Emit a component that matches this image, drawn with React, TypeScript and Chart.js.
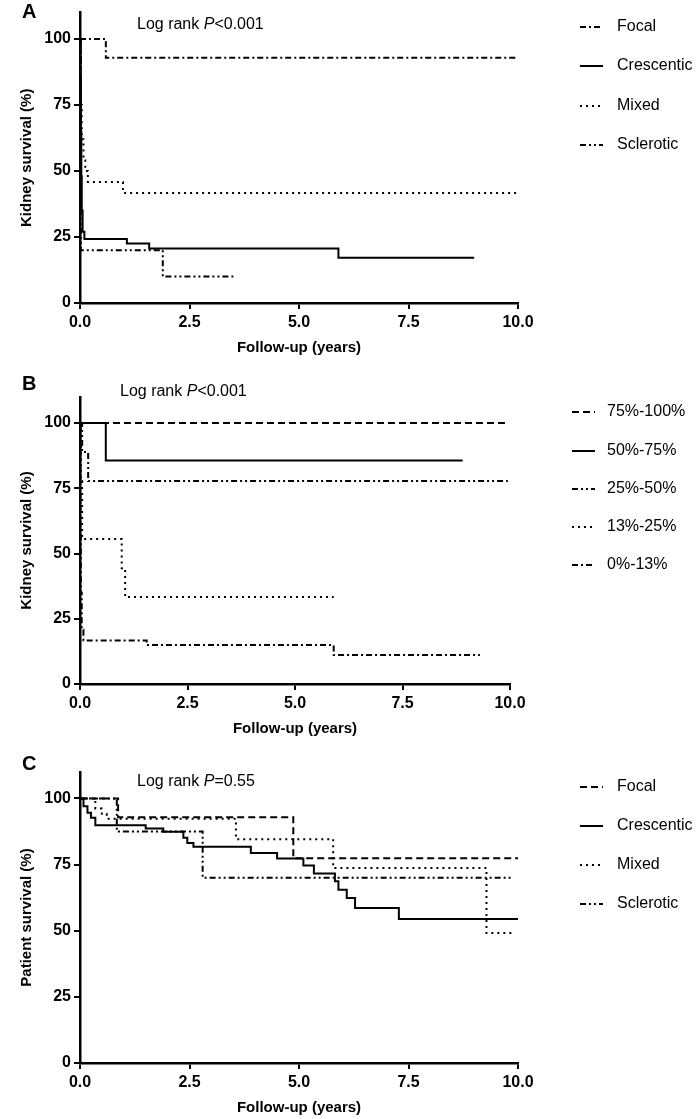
import React, { useEffect, useRef } from 'react';
import { Chart, registerables } from 'chart.js';

Chart.register(...registerables);

const FONT = '"Liberation Sans", Arial, Helvetica, sans-serif';

// ---------- shared axes ----------
const xTicks = [0, 2.5, 5, 7.5, 10];
const yTicks = [0, 25, 50, 75, 100];
const xTitle = 'Follow-up (years)';

// ---------- Panel A: kidney survival by histological class ----------
const classLabels = ['Focal', 'Crescentic', 'Mixed', 'Sclerotic'];
const aFocalTime = [0, 0.59, 10.0];
const aFocalSurv = [100, 92.9, 92.9];
const aCrescTime = [0, 0.01, 0.02, 0.03, 0.04, 0.06, 0.1, 1.07, 1.58, 5.9, 9.0];
const aCrescSurv = [100, 85, 65, 48, 35, 27, 24.2, 22.5, 20.6, 17.1, 17.1];
const aMixedTime = [0, 0.02, 0.04, 0.08, 0.12, 0.18, 0.98, 10.0];
const aMixedSurv = [100, 75, 62, 54, 50, 45.8, 41.7, 41.7];
const aSclerTime = [0, 0.02, 1.89, 3.5];
const aSclerSurv = [100, 20, 10, 10];

// ---------- Panel B: kidney survival by % normal glomeruli ----------
const normalLabels = ['75%-100%', '50%-75%', '25%-50%', '13%-25%', '0%-13%'];
const b75Time = [0, 9.9];
const b75Surv = [100, 100];
const b50Time = [0, 0.6, 8.9];
const b50Surv = [100, 85.7, 85.7];
const b25Time = [0, 0.05, 0.19, 9.95];
const b25Surv = [100, 88.9, 77.8, 77.8];
const b13Time = [0, 0.02, 0.05, 0.97, 1.05, 5.9];
const b13Surv = [100, 77.8, 55.6, 44.4, 33.3, 33.3];
const b0Time = [0, 0.01, 0.02, 0.04, 0.08, 1.55, 5.9, 9.3];
const b0Surv = [100, 60, 35, 20.8, 16.7, 14.9, 11.1, 11.1];

// ---------- Panel C: patient survival by histological class ----------
const cFocalTime = [0, 0.87, 4.87, 10.0];
const cFocalSurv = [100, 92.9, 77.4, 77.4];
const cCrescTime = [0, 0.08, 0.17, 0.25, 0.35, 1.5, 1.9, 2.36, 2.45, 2.59, 3.9, 4.5, 5.1, 5.34, 5.82, 5.9, 6.09, 6.28, 7.28, 10.0];
const cCrescSurv = [100, 97.1, 94.6, 92.7, 89.9, 88.6, 87.4, 85.1, 83.2, 81.7, 79.4, 77.3, 74.7, 71.6, 68.7, 65.5, 62.4, 58.6, 54.4, 54.4];
const cMixedTime = [0, 0.35, 0.5, 0.61, 3.56, 5.78, 9.28, 9.9];
const cMixedSurv = [100, 96.2, 94.2, 92.3, 84.6, 73.7, 49.1, 49.1];
const cSclerTime = [0, 0.84, 2.8, 9.85];
const cSclerSurv = [100, 87.5, 70, 70];

// ---------- line styles ----------
const SOLID: number[] = [];
const DASH = [7, 4];
const DOT = [2, 4];
const DASH_DOT = [6, 3, 2, 3];
const DASH_DOT_DOT = [6, 3, 2, 3, 2, 3];

type Series = { label: string; t: number[]; s: number[]; dash: number[] };
type Panel = {
  top: number;
  height: number;
  padTop: number;
  padRight: number;
  xScaleHeight: number;
  xTitlePadBottom: number;
  yTitle: string;
  letter: string;
  letterY: number;
  logX: number;
  logY: number;
  pText: string;
  legendY: number[];
  legendX1: number;
  legendX2: number;
  legendTextX: number;
  series: Series[];
};

const panels: Panel[] = [
  {
    top: 0, height: 370, padTop: 12, padRight: 178, xScaleHeight: 67, xTitlePadBottom: 13,
    yTitle: 'Kidney survival (%)', letter: 'A', letterY: 12, logX: 137, logY: 25, pText: '<0.001',
    legendY: [27, 66, 106, 145], legendX1: 580, legendX2: 603, legendTextX: 617,
    series: [
      { label: classLabels[0], t: aFocalTime, s: aFocalSurv, dash: DASH_DOT },
      { label: classLabels[1], t: aCrescTime, s: aCrescSurv, dash: SOLID },
      { label: classLabels[2], t: aMixedTime, s: aMixedSurv, dash: DOT },
      { label: classLabels[3], t: aSclerTime, s: aSclerSurv, dash: DASH_DOT_DOT },
    ],
  },
  {
    top: 370, height: 375, padTop: 27, padRight: 186, xScaleHeight: 61, xTitlePadBottom: 7,
    yTitle: 'Kidney survival (%)', letter: 'B', letterY: 14, logX: 120, logY: 22, pText: '<0.001',
    legendY: [42, 81, 119, 157, 195], legendX1: 572, legendX2: 595, legendTextX: 607,
    series: [
      { label: normalLabels[0], t: b75Time, s: b75Surv, dash: DASH },
      { label: normalLabels[1], t: b50Time, s: b50Surv, dash: SOLID },
      { label: normalLabels[2], t: b25Time, s: b25Surv, dash: DASH_DOT_DOT },
      { label: normalLabels[3], t: b13Time, s: b13Surv, dash: DOT },
      { label: normalLabels[4], t: b0Time, s: b0Surv, dash: DASH_DOT },
    ],
  },
  {
    top: 745, height: 374, padTop: 27, padRight: 178, xScaleHeight: 56, xTitlePadBottom: 2,
    yTitle: 'Patient survival (%)', letter: 'C', letterY: 19, logX: 137, logY: 37, pText: '=0.55',
    legendY: [42, 81, 120, 159], legendX1: 580, legendX2: 603, legendTextX: 617,
    series: [
      { label: classLabels[0], t: cFocalTime, s: cFocalSurv, dash: DASH },
      { label: classLabels[1], t: cCrescTime, s: cCrescSurv, dash: SOLID },
      { label: classLabels[2], t: cMixedTime, s: cMixedSurv, dash: DOT },
      { label: classLabels[3], t: cSclerTime, s: cSclerSurv, dash: DASH_DOT_DOT },
    ],
  },
];

function overlayPlugin(p: Panel) {
  return {
    id: 'overlay' + p.letter,
    afterDraw(chart: any) {
      const ctx: CanvasRenderingContext2D = chart.ctx;
      ctx.save();
      ctx.fillStyle = '#000';
      ctx.strokeStyle = '#000';
      ctx.textBaseline = 'middle';
      ctx.textAlign = 'left';
      // panel letter
      ctx.font = `bold 20px ${FONT}`;
      ctx.fillText(p.letter, 22, p.letterY);
      // log rank annotation
      let x = p.logX;
      ctx.font = `16px ${FONT}`;
      ctx.fillText('Log rank ', x, p.logY);
      x += ctx.measureText('Log rank ').width;
      ctx.font = `italic 16px ${FONT}`;
      ctx.fillText('P', x, p.logY);
      x += ctx.measureText('P').width;
      ctx.font = `16px ${FONT}`;
      ctx.fillText(p.pText, x, p.logY);
      // legend
      chart.data.datasets.forEach((ds: any, i: number) => {
        const y = p.legendY[i];
        ctx.beginPath();
        ctx.lineWidth = 2;
        ctx.lineCap = 'butt';
        ctx.setLineDash(ds.borderDash || []);
        ctx.moveTo(p.legendX1, y);
        ctx.lineTo(p.legendX2, y);
        ctx.stroke();
        ctx.setLineDash([]);
        ctx.font = `16px ${FONT}`;
        ctx.fillText(ds.label, p.legendTextX, y);
      });
      ctx.restore();
    },
  };
}

function axisCommon() {
  return {
    type: 'linear' as const,
    grid: { drawOnChartArea: false, drawTicks: true, tickLength: 6, color: '#000', lineWidth: 2 },
    border: { display: true, color: '#000', width: 2.5 },
  };
}

function PanelChart({ p }: { p: Panel }) {
  const ref = useRef<HTMLCanvasElement | null>(null);
  useEffect(() => {
    if (!ref.current) return;
    const chart = new Chart(ref.current, {
      type: 'line',
      data: {
        datasets: p.series.map((s) => ({
          label: s.label,
          data: s.t.map((t, i) => ({ x: t, y: s.s[i] })),
          borderColor: '#000',
          borderWidth: 2,
          borderDash: s.dash,
          borderCapStyle: 'butt',
          stepped: true,
          pointRadius: 0,
          fill: false,
        })),
      },
      options: {
        animation: false,
        responsive: false,
        devicePixelRatio: 1,
        layout: { padding: { top: p.padTop, right: p.padRight, left: 0, bottom: 0 } },
        plugins: { legend: { display: false }, tooltip: { enabled: false } },
        scales: {
          x: {
            ...axisCommon(),
            min: 0,
            max: 10,
            afterBuildTicks: (s: any) => { s.ticks = xTicks.map((v) => ({ value: v })); },
            afterFit: (s: any) => { s.height = p.xScaleHeight; },
            ticks: {
              color: '#000', padding: 4, maxRotation: 0, autoSkip: false,
              font: { family: FONT, size: 16, weight: 'bold' },
              callback: (v: any) => Number(v).toFixed(1),
            },
            title: {
              display: true, text: xTitle, color: '#000',
              font: { family: FONT, size: 15, weight: 'bold' },
              padding: { top: 0, bottom: p.xTitlePadBottom },
            },
          },
          y: {
            ...axisCommon(),
            min: 0,
            max: 110,
            afterBuildTicks: (s: any) => { s.ticks = yTicks.map((v) => ({ value: v })); },
            afterFit: (s: any) => { s.width = 80; },
            ticks: {
              color: '#000', padding: 3, autoSkip: false,
              font: { family: FONT, size: 16, weight: 'bold' },
              callback: (v: any) => String(v),
            },
            title: {
              display: true, text: p.yTitle, color: '#000',
              font: { family: FONT, size: 15, weight: 'bold' },
              padding: { top: 18, bottom: 0 },
            },
          },
        },
      } as any,
      plugins: [overlayPlugin(p)],
    });
    return () => chart.destroy();
  }, [p]);
  return (
    <canvas
      ref={ref}
      width={696}
      height={p.height}
      style={{ position: 'absolute', left: 0, top: p.top, width: 696, height: p.height }}
    />
  );
}

export default function App() {
  return (
    <div style={{ position: 'absolute', left: 0, top: 0, width: 696, height: 1119, background: '#fff' }}>
      {panels.map((p) => (
        <PanelChart key={p.letter} p={p} />
      ))}
    </div>
  );
}
